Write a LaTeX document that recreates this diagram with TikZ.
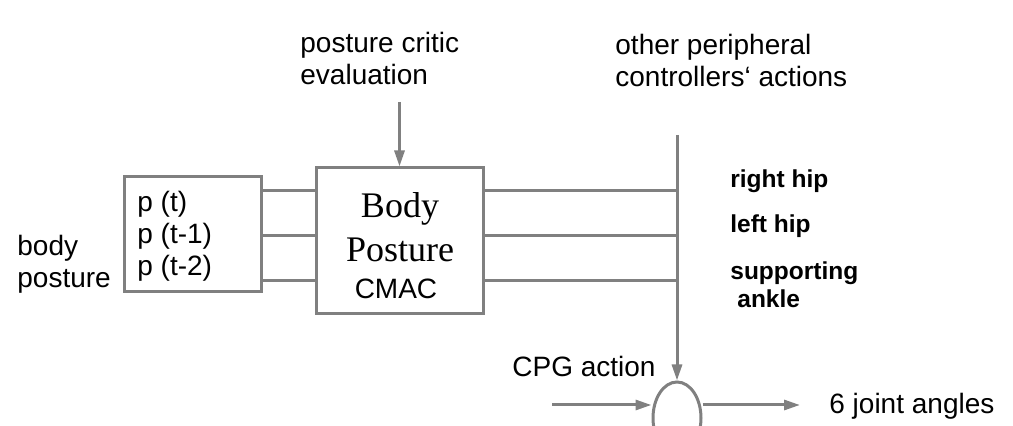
\documentclass[tikz,border=0pt]{standalone}
\usepackage{fontspec}
\setmainfont{Liberation Sans}
\newfontfamily\serifbody{Liberation Serif}
\usetikzlibrary{positioning,shapes.geometric,arrows.meta}
\definecolor{linegray}{RGB}{128,128,128}

\begin{document}
\begin{tikzpicture}[x=0.5pt,y=-0.5pt,
                    blockbox/.style={draw=linegray, line width=1.5pt, inner sep=0pt},
                    plaintext/.style={font=\fontsize{14}{16}\selectfont, inner sep=0pt, align=left, anchor=base west},
                    jointlabel/.style={font=\fontsize{12.25}{14}\selectfont\bfseries, inner sep=0pt, align=left, anchor=base west},
                    cmactext/.style={font=\serifbody\fontsize{18}{21.5}\selectfont, inner sep=0pt, anchor=base},
                    wire/.style={draw=linegray, line width=1.5pt},
                    flow/.style={wire, -{Triangle[length=8pt,width=5pt]}}]
    \useasboundingbox (0,0) rectangle (1013,426);
    % blocks
    \node[blockbox, minimum width=68.5pt, minimum height=57.5pt] (hist) at (192.5,234.5) {};
    \node[plaintext] (histtext) at (137,276) {p (t)\\p (t-1)\\p (t-2)};
    \node[blockbox, minimum width=83.5pt, minimum height=73pt] (cmac) at (399.5,241) {};
    \node[cmactext] (cmacbody) at (400,218) {Body};
    \node[cmactext] (cmacposture) at (400,262) {Posture};
    \node[plaintext, anchor=base] (cmacname) at (396,299) {CMAC};
    \node[ellipse, draw=linegray, line width=1.5pt, minimum width=24pt, minimum height=36pt] (sum) at (677,418) {};
    % labels (multi-line: base = last line)
    \node[plaintext] (critic) at (300,85) {posture critic\\evaluation};
    \node[plaintext] (others) at (615,87) {other peripheral\\controllers‘ actions};
    \node[plaintext] (posture) at (17,288) {body\\posture};
    \node[plaintext] (cpg) at (512,377) {CPG action};
    \node[plaintext] (angles) at (829,414) {6 joint angles};
    \node[jointlabel] (rhip) at (730,188) {right hip};
    \node[jointlabel] (lhip) at (730,233) {left hip};
    \node[jointlabel] (ankle) at (730,308) {supporting\\\hspace*{3.5pt}ankle};
    % free ends
    \coordinate (criticin) at (399.5,102);
    \coordinate (bustop) at (677,135);
    \coordinate (cpgin) at (552,405);
    \coordinate (jointout) at (800,405);
    % lines
    \draw[flow] (criticin) -- (cmac.north);
    \foreach \y in {191,236,281} {
        \draw[wire] (hist.east |- 0,\y) -- (cmac.west |- 0,\y);
        \draw[wire] (cmac.east |- 0,\y) -- (bustop |- 0,\y);
    }
    \draw[flow] (bustop) -- (sum.north);
    \draw[flow] (cpgin) -- (sum.west |- cpgin);
    \draw[flow] (sum.east |- jointout) -- (jointout);
\end{tikzpicture}
\end{document}
